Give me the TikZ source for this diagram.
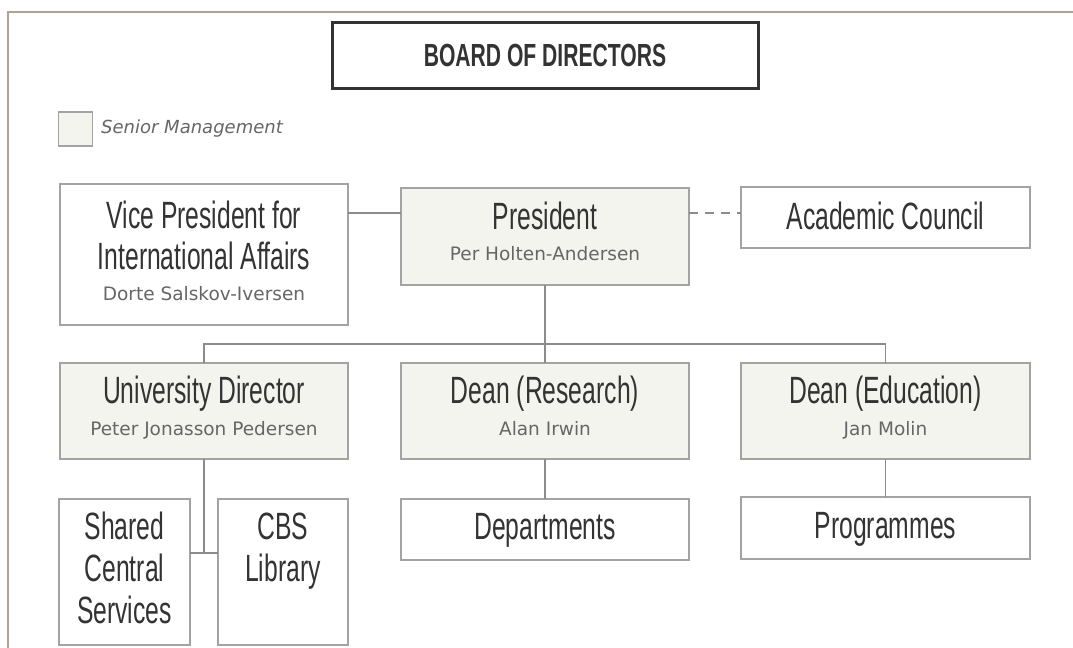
\documentclass[tikz,border=0pt]{standalone}
\usepackage{fontspec}
\newfontfamily\headfont[FakeStretch=0.65]{Liberation Sans}
\newfontfamily\boardfont[FakeStretch=0.66]{Liberation Sans}
\newfontfamily\namefont{DejaVu Sans}
\definecolor{framecol}{HTML}{AEA294}
\definecolor{boxgray}{HTML}{A3A3A3}
\definecolor{linkgray}{HTML}{8C8C8C}
\definecolor{seniorfill}{HTML}{F4F4EE}
\definecolor{headcol}{HTML}{333333}
\definecolor{namecol}{HTML}{666666}
\tikzset{
  orgbox/.style={draw=boxgray, line width=1.5bp, rectangle, inner sep=0pt, outer sep=0pt, fill=white},
  senior/.style={orgbox, fill=seniorfill},
  head/.style={font=\headfont\fontsize{38bp}{44bp}\selectfont, text=headcol, anchor=base, inner sep=0pt},
  person/.style={font=\namefont\fontsize{18.5bp}{22bp}\selectfont, text=namecol, anchor=base, inner sep=0pt},
  link/.style={draw=linkgray, line width=1.5bp},
}
\begin{document}
\begin{tikzpicture}[x=1bp, y=-1bp]
\useasboundingbox (0,0) rectangle (1073,648);
% page frame
\draw[framecol, line width=2bp] (8,648) -- (8,12) -- (1073,12);

% board
\node[draw=headcol, line width=3bp, rectangle, inner sep=0pt, minimum width=426bp, minimum height=66bp] (board) at (545,56) {};
\node[font=\boardfont\bfseries\fontsize{32bp}{36bp}\selectfont, text=headcol, anchor=base, inner sep=0pt] (boardtxt) at (545,67) {BOARD OF DIRECTORS};

% legend
\node[senior, minimum width=34bp, minimum height=34bp] (legend) at (75.5,129) {};
\node[font=\namefont\itshape\fontsize{18bp}{22bp}\selectfont, text=namecol, anchor=base west, inner sep=0pt] (legendtxt) at (101,134) {Senior Management};

% top row
\node[orgbox, minimum width=288bp, minimum height=141bp] (vp) at (204,254.5) {};
\node[head] (vp1) at (204,229) {Vice President for};
\node[head] (vp2) at (204,270) {International Affairs};
\node[person] (vpn) at (204,301) {Dorte Salskov-Iversen};

\node[senior, minimum width=288bp, minimum height=97bp] (pres) at (545,236.5) {};
\node[head] (pres1) at (545,230) {President};
\node[person] (presn) at (545,261) {Per Holten-Andersen};

\node[orgbox, minimum width=289bp, minimum height=61bp] (ac) at (885.5,217.5) {};
\node[head] (ac1) at (885.5,230) {Academic Council};

% middle row
\node[senior, minimum width=288bp, minimum height=96bp] (ud) at (204,411) {};
\node[head] (ud1) at (204,403) {University Director};
\node[person] (udn) at (204,435) {Peter Jonasson Pedersen};

\node[senior, minimum width=288bp, minimum height=96bp] (deanr) at (545,411) {};
\node[head] (deanr1) at (545,403) {Dean (Research)};
\node[person] (deanrn) at (545,435) {Alan Irwin};

\node[senior, minimum width=289bp, minimum height=96bp] (deane) at (885.5,411) {};
\node[head] (deane1) at (885.5,403) {Dean (Education)};
\node[person] (deanen) at (885.5,435) {Jan Molin};

% bottom row
\node[orgbox, minimum width=131bp, minimum height=146bp] (scs) at (124.5,572) {};
\node[head] (scs1) at (124.5,539) {Shared};
\node[head] (scs2) at (124.5,581) {Central};
\node[head] (scs3) at (124.5,623) {Services};

\node[orgbox, minimum width=130bp, minimum height=146bp] (cbs) at (283,572) {};
\node[head] (cbs1) at (283,539) {CBS};
\node[head] (cbs2) at (283,581) {Library};

\node[orgbox, minimum width=288bp, minimum height=61bp] (dept) at (545,529.5) {};
\node[head] (dept1) at (545,539) {Departments};

\node[orgbox, minimum width=289bp, minimum height=62bp] (prog) at (885.5,528) {};
\node[head] (prog1) at (885.5,538) {Programmes};

% connectors
\coordinate (toprow) at (0,213);
\coordinate (bus) at (0,344);
\coordinate (svc) at (0,553);
\draw[link] (vp.east |- toprow) -- (pres.west |- toprow);
\draw[link, dash pattern=on 9bp off 7bp] (pres.east |- toprow) -- (ac.west |- toprow);
\draw[link] (pres.south) -- (pres.south |- bus);
\draw[link] (ud.north) -- (ud.north |- bus) -| (deane.north);
\draw[link] (deanr.north) -- (deanr.north |- bus);
\draw[link] (deanr.south) -- (dept.north);
\draw[link] (deane.south) -- (prog.north);
\draw[link] (ud.south) -- (ud.south |- svc);
\draw[link] (scs.east |- svc) -- (cbs.west |- svc);
\end{tikzpicture}
\end{document}
